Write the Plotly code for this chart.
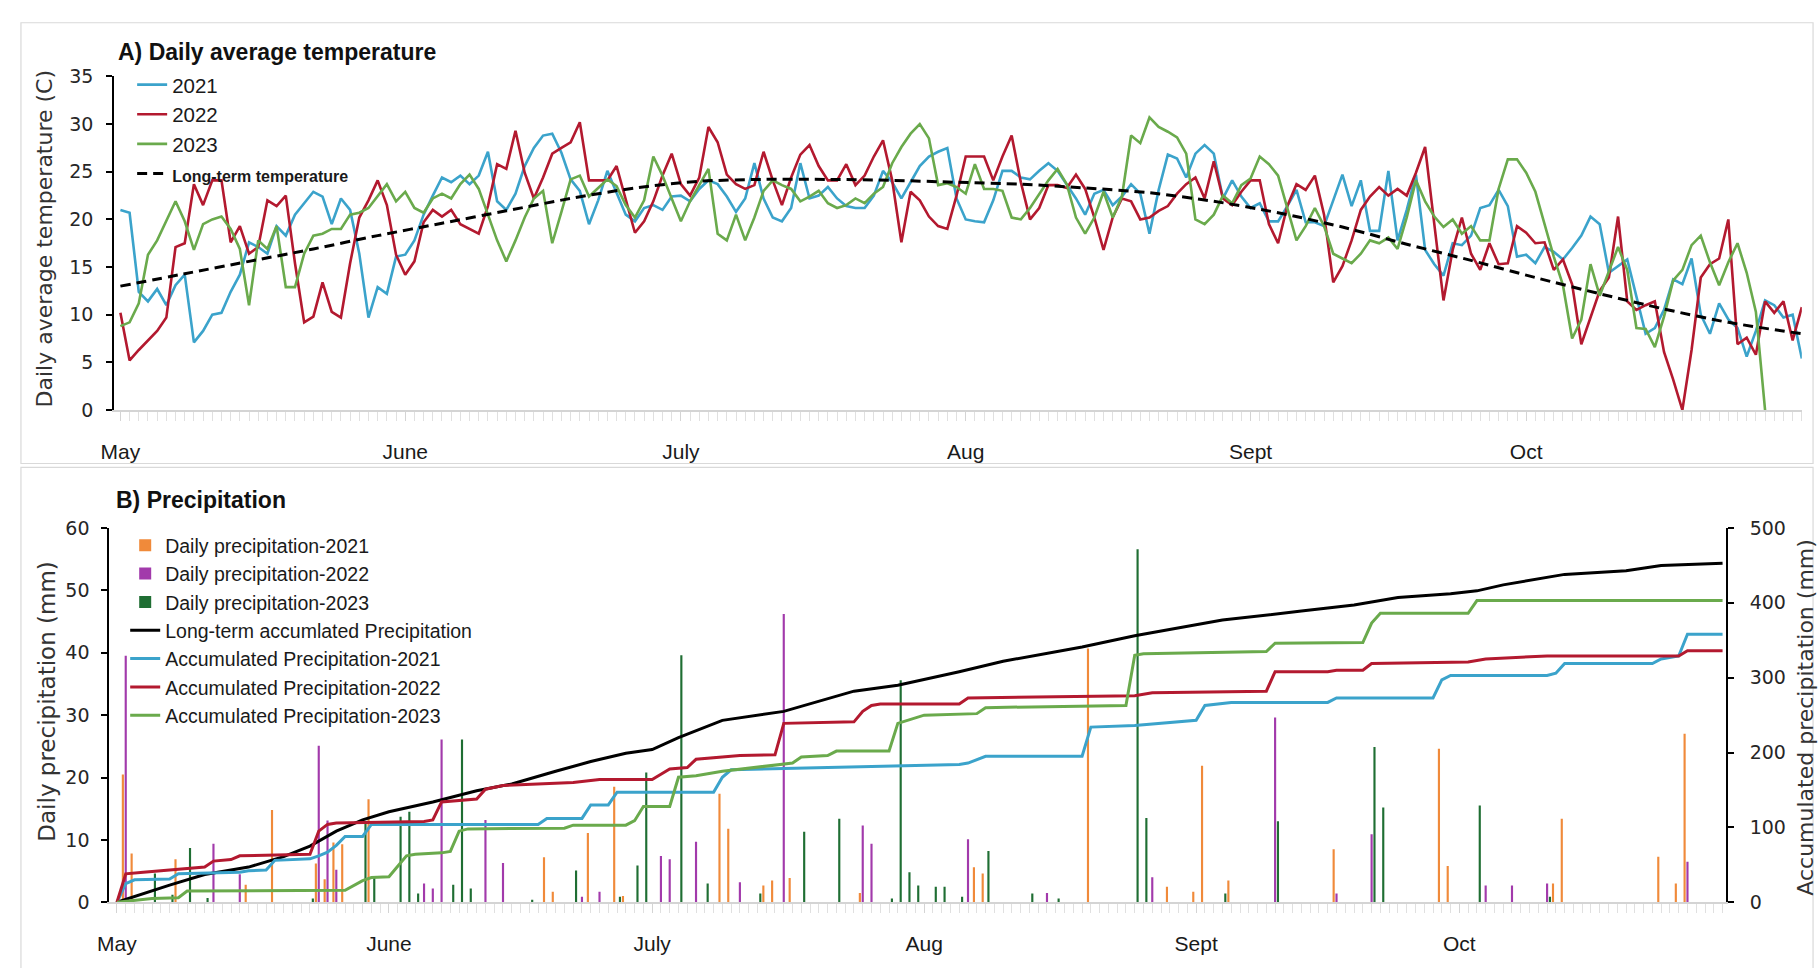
import plotly.graph_objects as go

# ------------------------------------------------------------------ data
months = ["May", "June", "July", "Aug", "Sept", "Oct"]
month_start_day = [0, 31, 61, 92, 123, 153]   # day index from May 1

# daily average temperature (C), one value per day from May 1
t2021 = [
    21.0, 20.7, 12.4, 11.4, 12.7, 11.0, 13.1, 14.2, 7.1, 8.3,
    10.0, 10.2, 12.4, 14.2, 17.6, 17.1, 16.4, 19.3, 18.3, 20.5,
    21.7, 22.9, 22.4, 19.5, 22.2, 21.0, 16.4, 9.7, 12.9, 12.2,
    16.1, 16.3, 17.8, 20.5, 22.5, 24.4, 23.9, 24.6, 23.7, 24.6,
    27.1, 21.9, 21.0, 22.7, 25.6, 27.5, 28.8, 29.0, 27.0, 24.2,
    23.0, 19.5, 22.0, 25.1, 22.8, 20.5, 19.8, 21.2, 21.5, 21.0,
    22.4, 22.5, 21.9, 23.2, 24.1, 23.7, 22.4, 20.8, 22.2, 25.9,
    22.2, 20.2, 19.8, 21.2, 25.9, 22.2, 22.5, 23.4, 22.2, 21.4,
    21.2, 21.2, 22.5, 25.1, 23.9, 22.2, 23.9, 25.6, 26.6, 27.1,
    27.5, 22.2, 20.0, 19.8, 19.7, 22.0, 25.1, 25.1, 24.4, 24.2,
    25.1, 25.9, 25.1, 23.7, 22.2, 20.5, 22.7, 23.1, 21.5, 22.4,
    23.7, 22.7, 18.5, 23.1, 26.8, 26.4, 24.4, 26.9, 27.8, 26.9,
    22.2, 24.1, 22.4, 21.2, 21.7, 19.8, 19.8, 21.4, 23.1, 19.7,
    19.7, 19.3, 21.9, 24.7, 21.4, 24.1, 18.8, 18.8, 25.1, 17.8,
    21.0, 24.7, 16.8, 15.3, 14.1, 17.5, 17.3, 18.3, 21.2, 21.5,
    23.1, 21.4, 16.1, 16.3, 15.4, 17.1, 16.6, 15.8, 17.0, 18.3,
    20.3, 19.5, 14.4, 15.1, 15.8, 11.9, 8.0, 8.6, 10.5, 13.7,
    13.2, 15.9, 10.0, 8.0, 11.2, 9.5, 8.6, 5.6, 8.3, 11.5,
    11.0, 9.7, 10.0, 5.4]

t2022 = [
    10.2, 5.2, 6.3, 7.3, 8.3, 9.7, 17.1, 17.5, 23.7, 21.5,
    24.1, 24.1, 17.6, 19.3, 16.4, 17.1, 22.0, 21.4, 22.5, 15.4,
    9.2, 9.8, 13.4, 10.3, 9.7, 15.4, 20.2, 22.0, 24.1, 21.5,
    16.3, 14.2, 15.6, 19.7, 21.0, 20.3, 21.0, 19.5, 19.0, 18.5,
    21.4, 25.8, 25.3, 29.3, 24.9, 22.2, 24.4, 26.9, 27.5, 28.1,
    30.2, 24.1, 24.1, 24.1, 25.6, 22.2, 18.6, 19.8, 21.9, 24.6,
    26.9, 23.7, 22.5, 24.4, 29.7, 28.1, 24.7, 23.7, 23.2, 23.6,
    27.1, 24.1, 21.5, 24.4, 26.8, 27.8, 25.6, 24.1, 24.1, 25.8,
    23.6, 24.6, 26.6, 28.3, 24.1, 17.6, 22.9, 22.0, 20.3, 19.3,
    19.0, 22.5, 26.6, 26.6, 26.6, 24.1, 26.6, 28.8, 23.9, 20.0,
    21.2, 23.6, 23.6, 23.3, 24.7, 23.2, 20.2, 16.8, 20.2, 22.2,
    21.9, 20.0, 20.2, 20.9, 21.4, 22.7, 23.7, 24.4, 22.2, 26.1,
    22.2, 21.5, 22.9, 24.1, 24.1, 19.5, 17.5, 21.4, 23.7, 23.1,
    24.6, 20.5, 13.4, 15.1, 17.8, 21.0, 22.4, 23.4, 22.5, 23.2,
    22.5, 24.9, 27.6, 19.5, 11.5, 16.8, 20.2, 16.4, 14.7, 17.5,
    15.3, 15.4, 19.3, 18.6, 17.5, 17.6, 14.7, 15.8, 13.2, 6.9,
    9.7, 12.5, 13.9, 20.3, 11.4, 10.5, 11.0, 11.4, 6.1, 3.2,
    0.0, 6.3, 13.9, 15.3, 15.9, 20.0, 6.9, 7.6, 5.8, 11.4,
    10.2, 11.4, 7.3, 10.8]

t2023 = [
    8.8, 9.2, 11.2, 16.3, 17.8, 19.8, 21.9, 19.8, 16.8, 19.5,
    20.0, 20.3, 19.0, 16.9, 11.0, 17.8, 16.9, 19.3, 12.9, 12.9,
    16.4, 18.3, 18.5, 19.0, 19.0, 20.5, 20.7, 21.2, 22.4, 23.7,
    21.9, 22.9, 21.2, 20.7, 22.2, 22.7, 22.2, 23.7, 24.7, 23.2,
    20.5, 17.8, 15.6, 17.8, 20.2, 22.2, 23.0, 17.5, 20.8, 24.2,
    24.6, 22.4, 23.3, 24.2, 23.5, 21.5, 20.2, 22.0, 26.6, 24.6,
    22.2, 19.8, 21.9, 23.6, 25.3, 18.5, 17.8, 20.5, 17.8, 20.2,
    23.0, 24.1, 23.6, 23.2, 21.9, 22.4, 23.0, 21.7, 21.2, 21.5,
    22.2, 21.7, 22.7, 23.4, 25.9, 27.6, 29.0, 30.0, 28.5, 23.6,
    23.8, 23.4, 22.7, 25.8, 23.2, 23.2, 23.0, 20.2, 20.0, 21.2,
    22.7, 24.1, 25.3, 23.7, 20.2, 18.5, 20.2, 22.9, 20.2, 22.4,
    28.8, 28.0, 30.7, 29.7, 29.2, 28.6, 26.9, 20.0, 19.5, 20.5,
    22.5, 21.7, 23.6, 24.3, 26.6, 25.8, 24.6, 21.2, 17.8, 19.3,
    21.2, 19.3, 16.4, 15.9, 15.4, 16.4, 17.8, 17.5, 18.1, 16.9,
    20.2, 24.1, 21.9, 20.3, 19.2, 20.0, 18.5, 19.3, 17.8, 17.8,
    23.2, 26.3, 26.3, 24.9, 22.9, 19.5, 16.1, 13.1, 7.5, 9.5,
    15.3, 12.0, 14.5, 17.1, 14.7, 8.6, 8.5, 6.6, 9.8, 13.6,
    14.7, 17.3, 18.3, 15.5, 13.1, 15.5, 17.5, 14.4, 10.3, 0.0]

# long-term temperature (smooth curve, read weekly)
lt_temp_days = [0, 7, 14, 21, 28, 35, 42, 49, 56, 63, 70, 77, 84, 91, 98,
                105, 112, 119, 126, 133, 140, 147, 154, 161, 168, 175, 183]
lt_temp = [13.0, 14.3, 15.6, 16.9, 18.3, 19.6, 20.9, 22.2, 23.3, 24.0, 24.2,
           24.2, 24.1, 23.9, 23.7, 23.3, 22.8, 21.9, 20.7, 19.2, 17.4, 15.7,
           13.9, 12.2, 10.6, 9.2, 8.0]

# daily precipitation (mm): rainy days only
rain2021_days = [1, 2, 7, 15, 18, 23, 24, 25, 26, 29, 49, 50, 54, 57, 58, 69, 70,
                 74, 75, 77, 85, 98, 99, 111, 120, 123, 124, 127, 139, 151, 152,
                 164, 165, 176, 178, 179]
rain2021_mm = [20.5, 7.8, 6.9, 2.8, 14.8, 6.2, 3.7, 9.6, 9.3, 16.5, 7.2, 1.7, 11.1,
               18.5, 1.0, 17.4, 11.8, 2.7, 3.5, 3.9, 1.5, 5.6, 4.6, 40.7, 2.5, 1.7,
               21.9, 3.5, 8.5, 24.6, 5.8, 3.0, 13.4, 7.3, 3.0, 27.0]

rain2022_days = [1, 11, 14, 23, 24, 25, 35, 36, 37, 42, 44, 53, 55, 62, 63, 66, 71,
                 76, 85, 86, 97, 106, 118, 132, 139, 143, 156, 159, 163, 179]
rain2022_mm = [39.5, 9.4, 4.5, 25.1, 13.1, 5.2, 3.0, 2.2, 26.1, 13.2, 6.3, 0.9, 1.7,
               7.4, 6.9, 9.7, 3.2, 46.2, 12.3, 9.4, 10.1, 1.5, 4.0, 29.6, 1.4, 10.9,
               2.7, 2.7, 3.0, 6.5]

rain2023_days = [4, 6, 8, 10, 22, 28, 29, 32, 33, 34, 38, 39, 40, 47, 52, 57, 59, 60,
                 64, 67, 73, 78, 82, 88, 89, 90, 91, 93, 94, 96, 99, 104, 107, 116,
                 117, 126, 132, 143, 144, 155, 163]
rain2023_mm = [4.6, 1.2, 8.7, 0.7, 0.6, 12.7, 4.1, 13.7, 14.5, 1.4, 2.8, 26.1, 2.2,
               0.4, 5.1, 0.9, 5.9, 20.8, 39.6, 3.0, 1.4, 11.3, 13.4, 0.6, 35.6, 4.8,
               2.7, 2.5, 2.5, 0.9, 8.2, 1.4, 0.6, 56.6, 13.5, 1.4, 13.0, 24.9, 15.2,
               15.5, 0.9]

# accumulated precipitation (mm), vertices
acc_lt_days = [0, 3, 6, 10, 15, 19, 22, 25, 28, 31, 36, 41, 45, 50, 54, 58, 61, 64,
               69, 76, 84, 89, 96, 101, 110, 116, 126, 135, 141, 146, 152, 155, 158,
               165, 172, 176, 183]
acc_lt_mm = [0, 12, 23, 37, 47, 61, 75, 95, 110, 121, 134, 149, 158, 175, 188, 199,
             204, 220, 243, 255, 282, 290, 308, 322, 341, 356, 377, 389, 397, 407,
             412, 416, 424, 438, 443, 450, 453]

acc2021_days = [0, 1, 2, 6, 7, 14, 15, 17, 18, 22, 23, 24, 25, 26, 28, 29, 48, 49,
                53, 54, 56, 57, 68, 69, 70, 96, 97, 98, 99, 110, 111, 116, 123, 124,
                127, 138, 139, 150, 151, 152, 163, 164, 165, 175, 176, 178, 179, 183]
acc2021_mm = [0, 25, 30, 31, 38, 40, 42, 43, 56, 58, 62, 67, 76, 88, 88, 104, 104,
              112, 112, 130, 130, 147, 147, 167, 177, 184, 186, 190, 195, 195, 234,
              236, 243, 263, 267, 267, 273, 273, 297, 303, 303, 306, 319, 319, 325,
              329, 358, 358]

acc2022_days = [0, 1, 3, 10, 11, 13, 14, 22, 23, 24, 25, 35, 36, 37, 41, 42, 44, 52,
                55, 61, 62, 63, 65, 66, 71, 75, 76, 84, 85, 86, 87, 96, 97, 116, 118,
                131, 132, 138, 139, 142, 143, 154, 156, 163, 178, 179, 183]
acc2022_mm = [0, 38, 40, 47, 55, 57, 62, 64, 95, 104, 106, 108, 110, 134, 138, 151,
              156, 160, 164, 164, 171, 178, 180, 191, 196, 197, 239, 241, 255, 263,
              265, 265, 273, 276, 280, 282, 308, 308, 310, 310, 319, 321, 325, 329,
              329, 336, 336]

acc2023_days = [0, 3, 4, 7, 8, 26, 28, 29, 31, 32, 33, 34, 37, 38, 39, 40, 51, 52,
                58, 59, 60, 63, 64, 66, 69, 77, 78, 81, 82, 88, 89, 92, 98, 99, 115,
                116, 117, 131, 132, 142, 143, 144, 154, 155, 183]
acc2023_mm = [0, 3, 5, 6, 15, 16, 29, 33, 34, 48, 62, 64, 66, 68, 95, 98, 99, 103,
              103, 109, 128, 128, 167, 169, 175, 186, 194, 196, 202, 202, 239, 250,
              252, 260, 263, 330, 332, 335, 346, 347, 373, 386, 386, 403, 403]

# ------------------------------------------------------------------ styling
C21, C22, C23 = "#3ba3cb", "#b3192f", "#6aaa4c"
R21, R22, R23 = "#f08a3a", "#a23aab", "#1f6e33"

W, H = 1820, 968


def fx(X):
    return X / W


def fy(Y):
    return 1 - Y / H


TICK_FONT = dict(family="DejaVu Sans, Verdana, sans-serif", size=19, color="#262626")
MONTH_FONT = dict(family="Liberation Sans Narrow, Arial Narrow, Liberation Sans, sans-serif",
                  size=21, color="#1a1a1a")
TITLE_FONT = dict(family="DejaVu Sans, Verdana, sans-serif", size=22, color="#333333")
HEAD_FONT = dict(family="Liberation Sans Narrow, Arial Narrow, Liberation Sans, sans-serif",
                 size=23, color="#111111")

fig = go.Figure()

# ---- panel A: temperature
for name, vals, col in [("2021", t2021, C21), ("2022", t2022, C22), ("2023", t2023, C23)]:
    fig.add_trace(go.Scatter(
        x=list(range(len(vals))), y=vals, name=name, mode="lines",
        line=dict(color=col, width=2.6), xaxis="x", yaxis="y", legend="legend"))
fig.add_trace(go.Scatter(
    x=lt_temp_days, y=lt_temp, mode="lines",
    name="<b><span style='font-size:16px'>Long-term temperature</span></b>",
    line=dict(color="black", width=3, dash="10px,6px", shape="spline", smoothing=0.8),
    xaxis="x", yaxis="y", legend="legend"))

# ---- panel B: precipitation
for name, d, v, col in [("Daily precipitation-2021", rain2021_days, rain2021_mm, R21),
                        ("Daily precipitation-2022", rain2022_days, rain2022_mm, R22),
                        ("Daily precipitation-2023", rain2023_days, rain2023_mm, R23)]:
    fig.add_trace(go.Bar(x=d, y=v, name=name, marker=dict(color=col, line=dict(width=0)),
                         xaxis="x2", yaxis="y2", legend="legend2"))

fig.add_trace(go.Scatter(x=acc_lt_days, y=acc_lt_mm, name="Long-term accumlated Precipitation",
                         mode="lines", line=dict(color="black", width=3),
                         xaxis="x2", yaxis="y3", legend="legend2"))
for name, d, v, col in [("Accumulated Precipitation-2021", acc2021_days, acc2021_mm, C21),
                        ("Accumulated Precipitation-2022", acc2022_days, acc2022_mm, C22),
                        ("Accumulated Precipitation-2023", acc2023_days, acc2023_mm, C23)]:
    fig.add_trace(go.Scatter(x=d, y=v, name=name, mode="lines",
                             line=dict(color=col, width=3),
                             xaxis="x2", yaxis="y3", legend="legend2"))

xcommon = dict(tickmode="array", tickvals=month_start_day, ticktext=months,
               ticks="outside", ticklen=9, tickcolor="#d4d4d4", tickwidth=1,
               showline=True, linecolor="#d4d4d4", linewidth=1.5,
               showgrid=False, zeroline=False, tickfont=MONTH_FONT,
               ticklabelstandoff=13,
               minor=dict(tickmode="linear", tick0=0, dtick=1, ticks="outside",
                          ticklen=9, tickcolor="#e0e0e0", tickwidth=1, showgrid=False))
ycommon = dict(ticks="outside", ticklen=6, tickcolor="black", tickwidth=1.5,
               showline=True, linecolor="black", linewidth=1.5,
               showgrid=False, zeroline=False, tickfont=TICK_FONT)

fig.update_layout(
    width=W, height=H, autosize=False,
    margin=dict(l=0, r=0, t=0, b=0),
    paper_bgcolor="white", plot_bgcolor="white",
    barmode="group", bargap=0.02, bargroupgap=0.25,
    showlegend=True,
    xaxis=dict(domain=[fx(101.7), fx(1801.7)], range=[-0.7, 183], anchor="y", **xcommon),
    yaxis=dict(domain=[fy(408.3), fy(67)], range=[0, 35], dtick=5, anchor="x",
               ticklabelstandoff=9, **ycommon),
    xaxis2=dict(domain=[fx(96.75), fx(1725.4)], range=[-0.9, 183.4], anchor="y2", **xcommon),
    yaxis2=dict(domain=[fy(912), fy(529)], range=[0, 60], dtick=10, anchor="x2",
                ticklabelstandoff=8, **ycommon),
    yaxis3=dict(range=[0, 500], dtick=100, overlaying="y2", side="right", anchor="x2",
                ticklabelstandoff=12, **ycommon),
    legend=dict(x=fx(120), y=fy(55), xanchor="left", yanchor="top",
                bgcolor="rgba(0,0,0,0)", borderwidth=0, tracegroupgap=0,
                font=dict(family="Liberation Sans, Arial, sans-serif", size=20.5, color="#1a1a1a")),
    legend2=dict(x=fx(113), y=fy(527), xanchor="left", yanchor="top",
                 bgcolor="rgba(0,0,0,0)", borderwidth=0, tracegroupgap=0,
                 font=dict(family="Liberation Sans, Arial, sans-serif", size=19.5, color="#1a1a1a")),
    shapes=[
        dict(type="rect", xref="paper", yref="paper", x0=fx(8), x1=fx(1813),
             y0=fy(463), y1=fy(12), line=dict(color="#d9d9d9", width=1.2), layer="below"),
        dict(type="rect", xref="paper", yref="paper", x0=fx(8), x1=fx(1813),
             y0=fy(990), y1=fy(467), line=dict(color="#d9d9d9", width=1.2), layer="below"),
    ],
    annotations=[
        dict(text="<b>A) Daily average temperature</b>", x=fx(104), y=fy(42), xref="paper",
             yref="paper", xanchor="left", yanchor="middle", showarrow=False, font=HEAD_FONT),
        dict(text="<b>B) Precipitation</b>", x=fx(102), y=fy(500), xref="paper",
             yref="paper", xanchor="left", yanchor="middle", showarrow=False, font=HEAD_FONT),
        dict(text="Daily average temperature (C)", x=fx(32), y=fy(233), xref="paper",
             yref="paper", textangle=-90, showarrow=False, font=TITLE_FONT,
             xanchor="center", yanchor="middle"),
        dict(text="Daily precipitation (mm)", x=fx(34), y=fy(707), xref="paper",
             yref="paper", textangle=-90, showarrow=False, font=dict(TITLE_FONT, size=23),
             xanchor="center", yanchor="middle"),
        dict(text="Accumulated precipitation (mm)", x=fx(1805), y=fy(723), xref="paper",
             yref="paper", textangle=-90, showarrow=False, font=dict(TITLE_FONT, size=22),
             xanchor="center", yanchor="middle"),
    ],
)

fig.write_html(
    "out.html",
    config={"displayModeBar": False},
    post_script=("document.documentElement.style.overflow='hidden';"
                 "document.body.style.margin='0';"
                 "document.body.style.overflow='hidden';"),
)
